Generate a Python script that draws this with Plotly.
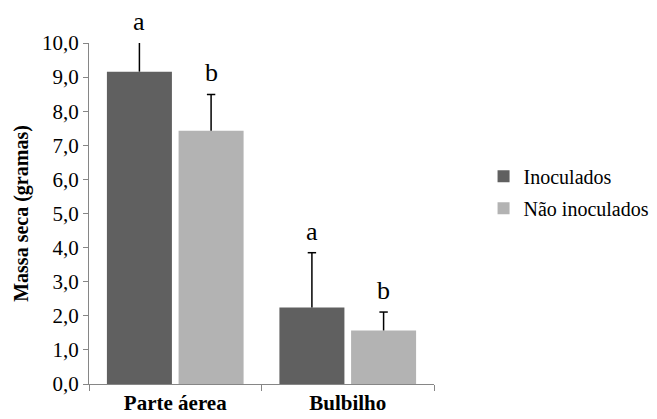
import plotly.graph_objects as go

# Dry mass (g) per plant part, with upper standard deviation and test letters
categorias = ["Parte áerea", "Bulbilho"]
inoculados = [9.16, 2.24]
inoculados_dp = [0.90, 1.61]
nao_inoculados = [7.43, 1.57]
nao_inoculados_dp = [1.06, 0.54]
letras_inoc = ["a", "a"]
letras_nao = ["b", "b"]
yticks = [0, 1, 2, 3, 4, 5, 6, 7, 8, 9, 10]

COR_INOC = "#606060"
COR_NAO = "#b3b3b3"
FONTE = "Liberation Serif"
BARGAP = 0.169
GROUPGAP = 0.093
# centre of each grouped bar relative to its category, in category units
OFFSET = (1 - BARGAP) / 4

series = [
    ("Inoculados", inoculados, inoculados_dp, letras_inoc, COR_INOC, -OFFSET),
    ("Não inoculados", nao_inoculados, nao_inoculados_dp, letras_nao, COR_NAO, OFFSET),
]

fig = go.Figure()
for nome, vals, dp, letras, cor, dx in series:
    fig.add_trace(go.Bar(
        name=nome, x=categorias, y=vals, legendgroup=nome,
        marker=dict(color=cor, line=dict(width=0)),
    ))

# upward-only error bars: a stem from the bar top and a cap at the end
for nome, vals, dp, letras, cor, dx in series:
    xs, ys = [], []
    for i, (v, d) in enumerate(zip(vals, dp)):
        xs += [i + dx, i + dx, None]
        ys += [v, v + d, None]
    fig.add_trace(go.Scatter(
        x=xs, y=ys, xaxis="x2", mode="lines", showlegend=False, hoverinfo="skip",
        line=dict(color="black", width=1.5),
    ))
    fig.add_trace(go.Scatter(
        x=[i + dx for i in range(len(vals))], y=[v + d for v, d in zip(vals, dp)],
        xaxis="x2", mode="markers", showlegend=False, hoverinfo="skip", cliponaxis=True,
        marker=dict(symbol="line-ew", size=6, line=dict(color="black", width=1.5)),
    ))
    # significance letters above each error bar
    for i, (v, d) in enumerate(zip(vals, dp)):
        fig.add_annotation(x=i + dx, y=min(v + d, 10), xref="x2", yref="y",
                           text=letras[i], showarrow=False, yanchor="bottom", yshift=5,
                           font=dict(family=FONTE, size=26, color="black"))

fig.update_layout(
    width=657, height=419,
    margin=dict(l=89, r=223, t=43, b=35, autoexpand=False),
    paper_bgcolor="white", plot_bgcolor="white",
    separators=",.",
    barmode="group", bargap=BARGAP, bargroupgap=GROUPGAP,
    font=dict(family=FONTE, size=18, color="black"),
    showlegend=True,
    legend=dict(x=0.736, y=0.541, xref="container", yref="container",
                xanchor="left", yanchor="middle",
                font=dict(family=FONTE, size=20, color="black"),
                itemwidth=30, tracegroupgap=3, bgcolor="rgba(0,0,0,0)"),
    yaxis=dict(range=[0, 10], tickvals=yticks, tickformat=".1f", automargin=False,
               showgrid=False, zeroline=False, showline=True, linecolor="#868686", linewidth=1,
               ticks="outside", ticklen=5, tickcolor="#868686",
               tickfont=dict(family=FONTE, size=21, color="black"),
               title=dict(text="<b>Massa seca (gramas)</b>", standoff=8,
                          font=dict(family=FONTE, size=20, color="black"))),
    xaxis=dict(showgrid=False, showline=True, linecolor="#868686", linewidth=1, automargin=False,
               ticks="outside", ticklen=6, tickcolor="#868686", tickson="boundaries",
               tickfont=dict(family=FONTE, size=21, color="black"),
               tickprefix="<b>", ticksuffix="</b>"),
    xaxis2=dict(overlaying="x", range=[-0.5, len(categorias) - 0.5], visible=False),
)

fig.write_html("out.html")
